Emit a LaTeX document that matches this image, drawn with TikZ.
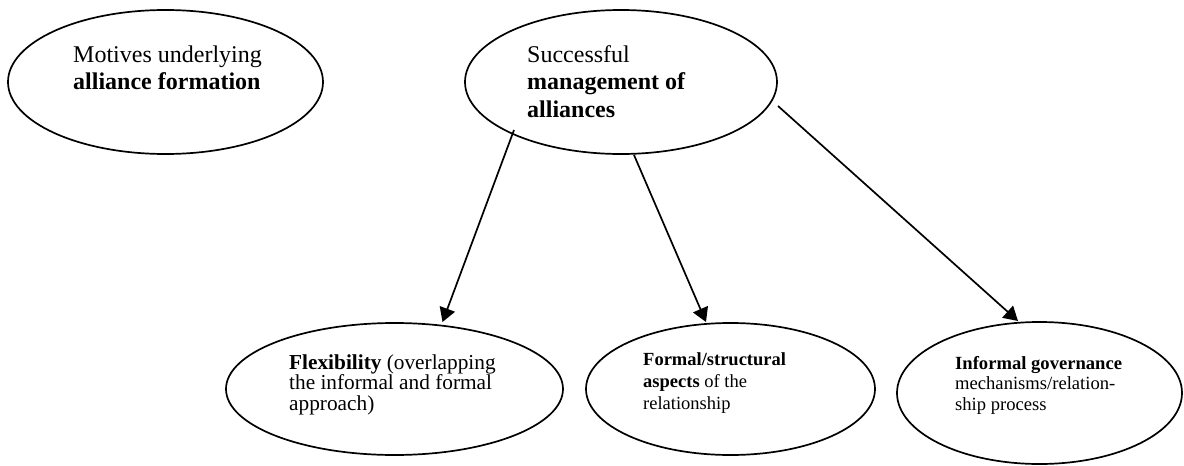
\documentclass[tikz,border=0pt]{standalone}
\usepackage{fontspec}
\setmainfont{Liberation Serif}
\usetikzlibrary{arrows.meta,shapes.geometric}
\tikzset{
  oval/.style={draw, ellipse, line width=1.7pt, inner sep=0pt},
  txt/.style={anchor=base west, align=left, inner sep=0pt},
  conn/.style={line width=1.7pt, -{Triangle[length=14pt,width=16pt]}}
}
\begin{document}
\begin{tikzpicture}[x=1pt,y=-1pt]
\useasboundingbox (0,0) rectangle (1184,466);
% ellipses
\node[oval, minimum width=315pt, minimum height=144pt] (mot) at (165.5,82) {};
\node[oval, minimum width=312pt, minimum height=144pt] (succ) at (621,82) {};
\node[oval, minimum width=337pt, minimum height=132pt] (flex) at (394.5,389) {};
\node[oval, minimum width=289pt, minimum height=132pt] (form) at (730.5,389) {};
\node[oval, minimum width=285pt, minimum height=142pt] (inf) at (1039.5,393) {};
% texts (anchored at the baseline of their last line)
\node[txt, font=\fontsize{24}{27}\selectfont] (motT) at (73,89) {Motives underlying\\\textbf{alliance formation}};
\node[txt, font=\fontsize{24}{27.5}\selectfont] (succT) at (527,117) {Successful\\\textbf{management of}\\\textbf{alliances}};
\node[txt, font=\fontsize{21.3}{20.6}\selectfont] (flexT) at (289,410.2) {\textbf{Flexibility} (overlapping\\the informal and formal\\approach)};
\node[txt, font=\fontsize{18.5}{21.7}\selectfont] (formT) at (643,409) {\textbf{Formal/structural}\\\textbf{aspects} of the\\relationship};
\node[txt, font=\fontsize{18.6}{20.5}\selectfont] (infT) at (955,410) {\textbf{Informal governance}\\mechanisms/relation-\\ship process};
% connector ends
\coordinate (s1) at (514,130);
\coordinate (e1) at (442.5,322);
\coordinate (s2) at (634,155);
\coordinate (e2) at (706,322);
\coordinate (s3) at (778,106);
\coordinate (e3) at (1018,321);
\draw[conn] (s1) -- (e1);
\draw[conn] (s2) -- (e2);
\draw[conn] (s3) -- (e3);
\end{tikzpicture}
\end{document}
